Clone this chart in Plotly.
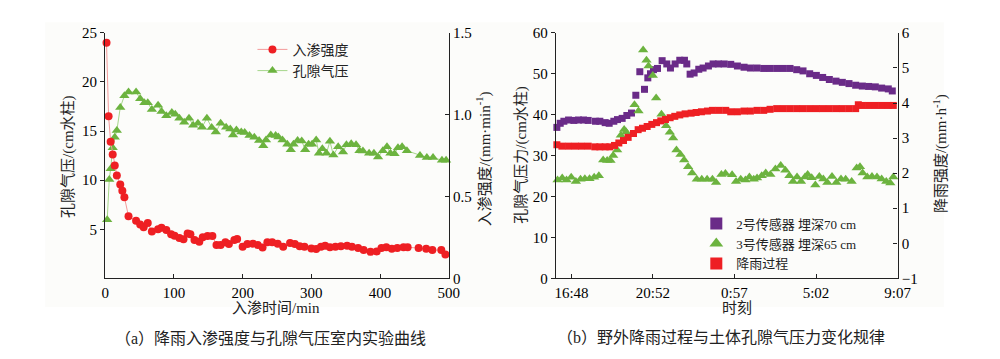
import plotly.graph_objects as go

# ---------------- (a) laboratory test ----------------
inf_time = [2, 5, 8, 11, 14, 17, 22, 25, 28, 34, 45, 51, 56, 62, 68, 77, 82, 89, 96, 101,
            108, 114, 120, 124, 130, 137, 142, 149, 156, 162, 168, 175, 180, 188, 192, 200, 207, 215, 222, 229,
            236, 243, 251, 259, 269, 276, 283, 290, 300, 307, 314, 320, 327, 335, 343, 352, 359, 368, 376, 386,
            395, 402, 409, 417, 425, 434, 440, 456, 467, 476, 489, 495]
inf_rate = [1.44, 0.99, 0.835, 0.757, 0.689, 0.629, 0.574, 0.535, 0.496, 0.379, 0.352, 0.329, 0.313, 0.339, 0.286, 0.30, 0.309, 0.296, 0.270, 0.261,
            0.247, 0.239, 0.274, 0.27, 0.235, 0.224, 0.251, 0.259, 0.259, 0.204, 0.204, 0.22, 0.21, 0.235, 0.24, 0.193, 0.21, 0.212, 0.204, 0.189,
            0.22, 0.22, 0.212, 0.193, 0.216, 0.21, 0.197, 0.193, 0.183, 0.179, 0.193, 0.2, 0.19, 0.193, 0.197, 0.2, 0.193, 0.185, 0.173, 0.162,
            0.165, 0.185, 0.19, 0.181, 0.185, 0.19, 0.19, 0.185, 0.181, 0.173, 0.173, 0.146]

gas_time = [3, 6, 8, 11, 14, 17, 22, 28, 34, 45, 51, 57, 62, 68, 77, 82, 89, 97, 102, 108,
            115, 122, 128, 135, 141, 148, 155, 161, 168, 176, 182, 186, 191, 198, 203, 210, 217, 224, 230, 234,
            241, 248, 252, 258, 265, 270, 274, 280, 286, 291, 296, 301, 307, 311, 316, 322, 327, 332, 339, 346,
            351, 358, 365, 370, 375, 384, 391, 397, 404, 410, 415, 421, 426, 432, 439, 458, 468, 477, 490, 496]
gas_press = [5.96, 10.08, 11.16, 13.3, 14.36, 15.05, 17.4, 18.6, 18.97, 18.97, 18.3, 17.87, 17.87, 17.2, 17.64, 17.0, 16.57, 16.9, 16.7, 16.3,
             15.9, 16.3, 15.6, 15.8, 15.4, 16.3, 15.35, 14.9, 15.8, 15.4, 15.2, 14.6, 15.1, 14.9, 14.85, 14.56, 14.36, 14.04, 13.5, 14.1,
             14.6, 14.56, 14.4, 14.08, 13.65, 13.1, 13.65, 14.05, 14.0, 13.1, 13.65, 13.65, 14.1, 12.74, 13.2, 12.74, 13.96, 12.55, 13.4, 12.86,
             13.6, 13.7, 13.6, 13.0, 12.97, 12.74, 12.74, 12.35, 13.0, 13.4, 12.74, 12.7, 13.3, 13.4, 13.0, 12.5, 12.3, 12.3, 12.03, 12.03]

# ---------------- (b) field monitoring (minutes after 16:48) ----------------
s2_time = [-44, -34, -23, -9, 7, 21, 36, 50, 72, 85, 101, 113, 127, 138, 152, 166, 180, 193, 205, 219,
           229, 237, 246, 258, 272, 286, 297, 311, 325, 339, 346, 356, 368, 382, 395, 411, 425, 441, 458, 478,
           498, 518, 537, 557, 577, 596, 616, 636, 656, 676, 695, 715, 735, 754, 774, 794, 813, 833, 853, 873,
           892, 912, 931, 951, 963]
s2_press = [36.9, 37.9, 38.4, 38.7, 38.6, 38.7, 38.7, 38.6, 38.4, 38.4, 38.06, 37.9, 38.4, 38.8, 39.1, 39.8, 40.4, 44.75, 50.5, 46.2,
            49.0, 50.0, 51.0, 51.3, 53.2, 52.4, 51.4, 52.4, 53.3, 53.3, 52.4, 49.9, 50.2, 51.1, 51.4, 51.9, 52.4, 52.4, 52.4, 52.3,
            51.9, 51.6, 51.4, 51.4, 51.3, 51.3, 51.3, 51.3, 51.3, 51.0, 50.7, 50.0, 49.6, 49.1, 48.6, 48.2, 47.9, 47.6, 47.2, 47.0,
            46.9, 46.8, 46.5, 46.3, 45.8]

s3_time = [-42, -28, -15, -1, 13, 27, 40, 54, 68, 82, 95, 107, 117, 125, 137, 148, 158, 164, 189, 201,
           215, 225, 231, 244, 254, 270, 284, 295, 305, 315, 327, 338, 350, 362, 376, 391, 407, 423, 434, 450,
           462, 482, 494, 508, 522, 534, 547, 557, 571, 583, 597, 612, 628, 642, 654, 665, 677, 689, 701, 709,
           721, 732, 744, 756, 768, 782, 795, 809, 823, 841, 856, 866, 874, 888, 902, 917, 931, 945, 957, 966]
s3_press = [24.05, 24.5, 24.05, 24.7, 23.7, 24.2, 24.35, 24.35, 24.7, 25.1, 28.9, 28.8, 28.8, 30.0, 31.4, 34.95, 36.4, 35.8, 42.4, 40.9,
            55.8, 53.3, 51.9, 49.6, 44.1, 40.1, 37.3, 35.7, 34.3, 31.4, 30.3, 28.9, 27.3, 25.75, 24.2, 24.2, 24.2, 24.2, 23.4, 25.4,
            25.6, 25.3, 23.7, 24.2, 24.05, 24.8, 24.2, 24.5, 25.1, 25.75, 25.4, 26.7, 27.6, 26.4, 25.1, 23.7, 24.8, 23.7, 24.8, 25.4,
            24.6, 22.8, 24.9, 24.3, 23.4, 24.9, 23.4, 24.3, 24.2, 23.7, 27.0, 27.3, 25.75, 24.8, 24.9, 24.8, 24.3, 23.7, 23.3, 24.8]

rain_time = [-44, -29, -9, 11, 30, 50, 70, 85, 101, 115, 129, 142, 156, 170, 186, 200, 213, 227, 241, 255,
             268, 282, 296, 310, 325, 341, 359, 374, 390, 408, 423, 443, 463, 478, 498, 518, 537, 557, 577, 596,
             616, 636, 656, 676, 695, 715, 735, 754, 774, 794, 813, 833, 853, 861, 873, 892, 912, 931, 951, 966]
rain_rate = [2.81, 2.77, 2.77, 2.77, 2.77, 2.77, 2.75, 2.75, 2.75, 2.75, 2.79, 2.86, 2.93, 3.02, 3.13, 3.24, 3.28, 3.33, 3.39, 3.44,
             3.49, 3.53, 3.58, 3.62, 3.66, 3.69, 3.71, 3.73, 3.75, 3.77, 3.79, 3.79, 3.79, 3.75, 3.75, 3.77, 3.77, 3.79, 3.79, 3.82,
             3.84, 3.84, 3.84, 3.84, 3.84, 3.84, 3.84, 3.84, 3.84, 3.84, 3.84, 3.84, 3.84, 3.95, 3.93, 3.93, 3.93, 3.93, 3.93, 3.93]

time_ticks = [0, 244, 489, 734, 979]
time_labels = ["16:48", "20:52", "0:57", "5:02", "9:07"]

SERIF = "'Liberation Serif', 'Times New Roman', 'Noto Sans CJK SC', serif"
CJK = "'Liberation Serif', 'Times New Roman', 'Noto Sans CJK SC', serif"

RED = "#ee1f23"
GREEN = "#6cb33f"
PURPLE = "#6a2b88"

fig = go.Figure()

fig.add_trace(go.Scatter(x=inf_time, y=inf_rate, name="入渗强度", mode="lines+markers",
                         xaxis="x", yaxis="y2", legend="legend", cliponaxis=False,
                         line=dict(color="#f39a9a", width=1),
                         marker=dict(symbol="circle", size=8, color=RED)))
fig.add_trace(go.Scatter(x=gas_time, y=gas_press, name="孔隙气压", mode="lines+markers",
                         xaxis="x", yaxis="y", legend="legend", cliponaxis=False,
                         line=dict(color="#a5d68a", width=1),
                         marker=dict(symbol="triangle-up", size=9, color=GREEN)))

fig.add_trace(go.Scatter(x=s2_time, y=s2_press, name="2号传感器 埋深70 cm", mode="markers",
                         xaxis="x2", yaxis="y3", legend="legend2", cliponaxis=False,
                         marker=dict(symbol="square", size=7, color=PURPLE)))
fig.add_trace(go.Scatter(x=s3_time, y=s3_press, name="3号传感器 埋深65 cm", mode="markers",
                         xaxis="x2", yaxis="y3", legend="legend2", cliponaxis=False,
                         marker=dict(symbol="triangle-up", size=9, color=GREEN)))
fig.add_trace(go.Scatter(x=rain_time, y=rain_rate, name="降雨过程", mode="markers",
                         xaxis="x2", yaxis="y4", legend="legend2", cliponaxis=False,
                         marker=dict(symbol="square", size=7, color=RED)))

H = 359.0
ydom = [1 - 283 / H, 1 - 26 / H]
base = dict(showline=True, linecolor="#222222", linewidth=1.3, showgrid=False, zeroline=False,
            tickfont=dict(family=SERIF, size=15, color="black"), ticklen=4, tickcolor="#222222",
            tickwidth=1)

fig.update_layout(
    width=1000, height=359,
    margin=dict(l=0, r=0, t=0, b=0),
    paper_bgcolor="white", plot_bgcolor="rgba(0,0,0,0)",
    showlegend=True,
    xaxis=dict(base, domain=[0.103, 0.453], range=[0, 500], tickvals=[0, 100, 200, 300, 400, 500],
               ticks="inside", anchor="y"),
    yaxis=dict(base, domain=ydom, range=[0, 25], tickvals=[5, 10, 15, 20, 25], ticks="outside", anchor="x"),
    yaxis2=dict(base, overlaying="y", side="right", anchor="x", range=[0, 1.5],
                tickvals=[0, 0.5, 1.0, 1.5], ticktext=["0", "0.5", "1.0", "1.5"], ticks="inside"),
    xaxis2=dict(base, domain=[0.562, 0.910], range=[-47, 979], tickvals=time_ticks, ticktext=time_labels,
                ticks="inside", anchor="y3"),
    yaxis3=dict(base, domain=ydom, range=[0, 60], tickvals=[0, 10, 20, 30, 40, 50, 60], ticks="outside",
                anchor="x2"),
    yaxis4=dict(base, overlaying="y3", side="right", anchor="x2", range=[-1, 6],
                tickvals=[-1, 0, 1, 2, 3, 4, 5, 6], ticks="inside"),
    legend=dict(x=0.253, y=1 - 27 / H, xanchor="left", yanchor="top", bgcolor="rgba(0,0,0,0)",
                font=dict(family=CJK, size=14, color="#222"), tracegroupgap=0, itemwidth=30),
    legend2=dict(x=0.705, y=1 - 210 / H, xanchor="left", yanchor="top", bgcolor="rgba(0,0,0,0)",
                 font=dict(family=CJK, size=13, color="#222"), tracegroupgap=0, itemwidth=30,
                 itemsizing="constant"),
    shapes=[dict(type="rect", xref="paper", yref="paper", x0=0.042, x1=0.957, y0=1 - 313 / H, y1=1 - 15 / H,
                 fillcolor="#fcfcfa", line=dict(width=0), layer="below")],
)

ann = []
def txt(x, y, s, angle=0, size=15):
    ann.append(dict(x=x / 1000.0, y=1 - y / H, xref="paper", yref="paper", text=s, showarrow=False,
                    textangle=angle, xanchor="center", yanchor="middle",
                    font=dict(family=CJK, size=size, color="#222")))

txt(65, 156, "孔隙气压/(cm水柱)", -90)
txt(489, 158, "入渗强度/(mm·min<sup>-1</sup>)", -90)
txt(277, 314, "入渗时间/min")
txt(527, 154, "孔隙气压力/(cm水柱)", -90)
txt(953, 152, "降雨强度/(mm·h<sup>-1</sup>)", -90)
txt(746, 314, "时刻")
txt(271, 346, "（a）降雨入渗强度与孔隙气压室内实验曲线", 0, 16)
txt(730, 345, "（b）野外降雨过程与土体孔隙气压力变化规律", 0, 16)
fig.update_layout(annotations=ann)

fig.write_html("out.html", config={"displayModeBar": False},
               post_script="document.body.style.margin='0';document.body.style.overflow='hidden';")
